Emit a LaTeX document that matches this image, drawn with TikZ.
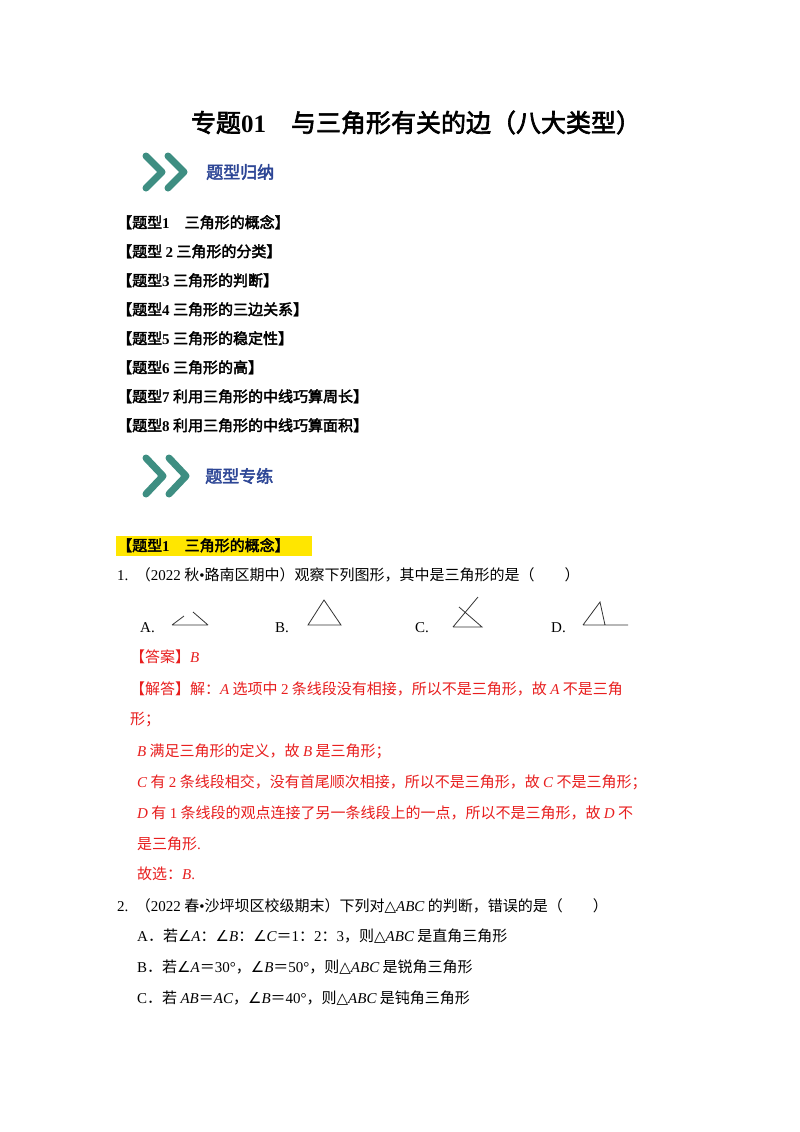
\documentclass[tikz,border=0pt]{standalone}
\usepackage{fontspec}
\setmainfont{Noto Sans CJK SC}
\newfontfamily\tnr{Liberation Serif}
\newfontfamily\cjkbf{Noto Sans CJK SC}[FakeBold=2.5]
\newfontfamily\sym{DejaVu Sans}
\newcommand{\lt}[1]{{\tnr #1}}
\newcommand{\li}[1]{{\tnr\itshape #1}}
\newcommand{\ang}{{\sym ∠}}
\newcommand{\tri}{{\sym △}}
\definecolor{ans}{RGB}{232,30,30}
\definecolor{teal1}{RGB}{62,142,130}
\definecolor{blu}{RGB}{45,70,150}
\definecolor{hl}{RGB}{255,230,0}
\begin{document}
\begin{tikzpicture}[x=1pt,y=-1pt,
  tx/.style={anchor=base west,inner sep=0pt,font=\fontsize{15}{17}\selectfont},
  bx/.style={tx,font=\fontsize{15}{17}\selectfont\cjkbf},
  rx/.style={tx,text=ans},
  seg/.style={draw=black!80,line width=0.8pt},
  chev/.style={draw=teal1,line width=7pt,line cap=round,line join=round}]
\useasboundingbox (0,0) rectangle (800,1132);
\fill[white] (0,0) rectangle (800,1132);
\node[anchor=base,inner sep=0pt,font=\fontsize{25}{28}\selectfont\cjkbf] (title) at (416,132) {专题\lt{\bfseries 01}\quad 与三角形有关的边（八大类型）};
% header 1
\draw[chev] (146,156) -- (162,172) -- (146,188);
\draw[chev] (168,156) -- (184,172) -- (168,188);
\node[anchor=west,inner sep=0pt,text=blu,font=\fontsize{17}{20}\selectfont\cjkbf] (h1) at (206,172) {题型归纳};
\node[bx] (l1) at (117,228) {【题型\lt{\bfseries 1}\quad 三角形的概念】};
\node[bx] (l2) at (117,257) {【题型 \lt{\bfseries 2} 三角形的分类】};
\node[bx] (l3) at (117,286) {【题型\lt{\bfseries 3} 三角形的判断】};
\node[bx] (l4) at (117,315) {【题型\lt{\bfseries 4} 三角形的三边关系】};
\node[bx] (l5) at (117,344) {【题型\lt{\bfseries 5} 三角形的稳定性】};
\node[bx] (l6) at (117,373) {【题型\lt{\bfseries 6} 三角形的高】};
\node[bx] (l7) at (117,402) {【题型\lt{\bfseries 7} 利用三角形的中线巧算周长】};
\node[bx] (l8) at (117,431) {【题型\lt{\bfseries 8} 利用三角形的中线巧算面积】};
% header 2
\draw[chev] (146,458) -- (163,476) -- (146,494);
\draw[chev] (169,458) -- (186,476) -- (169,494);
\node[anchor=west,inner sep=0pt,text=blu,font=\fontsize{17}{20}\selectfont\cjkbf] (h2) at (205,476) {题型专练};
\fill[hl] (116,536) rectangle (312,556);
\node[bx] (s1) at (117,551) {【题型\lt{\bfseries 1}\quad 三角形的概念】};
\node[tx] (q1) at (117,580) {\lt{1.}\enspace（\lt{2022} 秋\lt{•}路南区期中）观察下列图形，其中是三角形的是（\qquad ）};
\node[tx] (oa) at (140,632) {\lt{A.}};
\node[tx] (ob) at (275,632) {\lt{B.}};
\node[tx] (oc) at (415,632) {\lt{C.}};
\node[tx] (od) at (551,632) {\lt{D.}};
% figures
\draw[seg] (172,625) -- (208,625) (172,625) -- (184,616) (193,612) -- (208,625);
\draw[seg] (308,625) -- (341,625) -- (324,600) -- cycle;
\draw[seg] (453,627) -- (482,627) -- (459,607) (453,627) -- (478,597);
\draw[seg] (583,625) -- (628,625) (583,625) -- (600,602) -- (605,625);
\node[rx] (a1) at (130,662) {【答案】\li{B}};
\node[rx] (a2) at (130,694) {【解答】解：\li{A} 选项中 \lt{2} 条线段没有相接，所以不是三角形，故 \li{A} 不是三角};
\node[rx] (a3) at (130,724) {形；};
\node[rx] (a4) at (137,756) {\li{B} 满足三角形的定义，故 \li{B} 是三角形；};
\node[rx] (a5) at (137,787) {\li{C} 有 \lt{2} 条线段相交，没有首尾顺次相接，所以不是三角形，故 \li{C} 不是三角形；};
\node[rx] (a6) at (137,818) {\li{D} 有 \lt{1} 条线段的观点连接了另一条线段上的一点，所以不是三角形，故 \li{D} 不};
\node[rx] (a7) at (137,849) {是三角形\lt{.}};
\node[rx] (a8) at (137,879) {故选：\li{B}\lt{.}};
\node[tx] (q2) at (117,911) {\lt{2.}\enspace（\lt{2022} 春\lt{•}沙坪坝区校级期末）下列对\tri\li{ABC} 的判断，错误的是（\qquad ）};
\node[tx] (b1) at (137,941) {\lt{A}．若\ang\li{A}：\ang\li{B}：\ang\li{C}＝\lt{1}：\lt{2}：\lt{3}，则\tri\li{ABC} 是直角三角形};
\node[tx] (b2) at (137,972) {\lt{B}．若\ang\li{A}＝\lt{30°}，\ang\li{B}＝\lt{50°}，则\tri\li{ABC} 是锐角三角形};
\node[tx] (b3) at (137,1003) {\lt{C}．若 \li{AB}＝\li{AC}，\ang\li{B}＝\lt{40°}，则\tri\li{ABC} 是钝角三角形};
\end{tikzpicture}
\end{document}
